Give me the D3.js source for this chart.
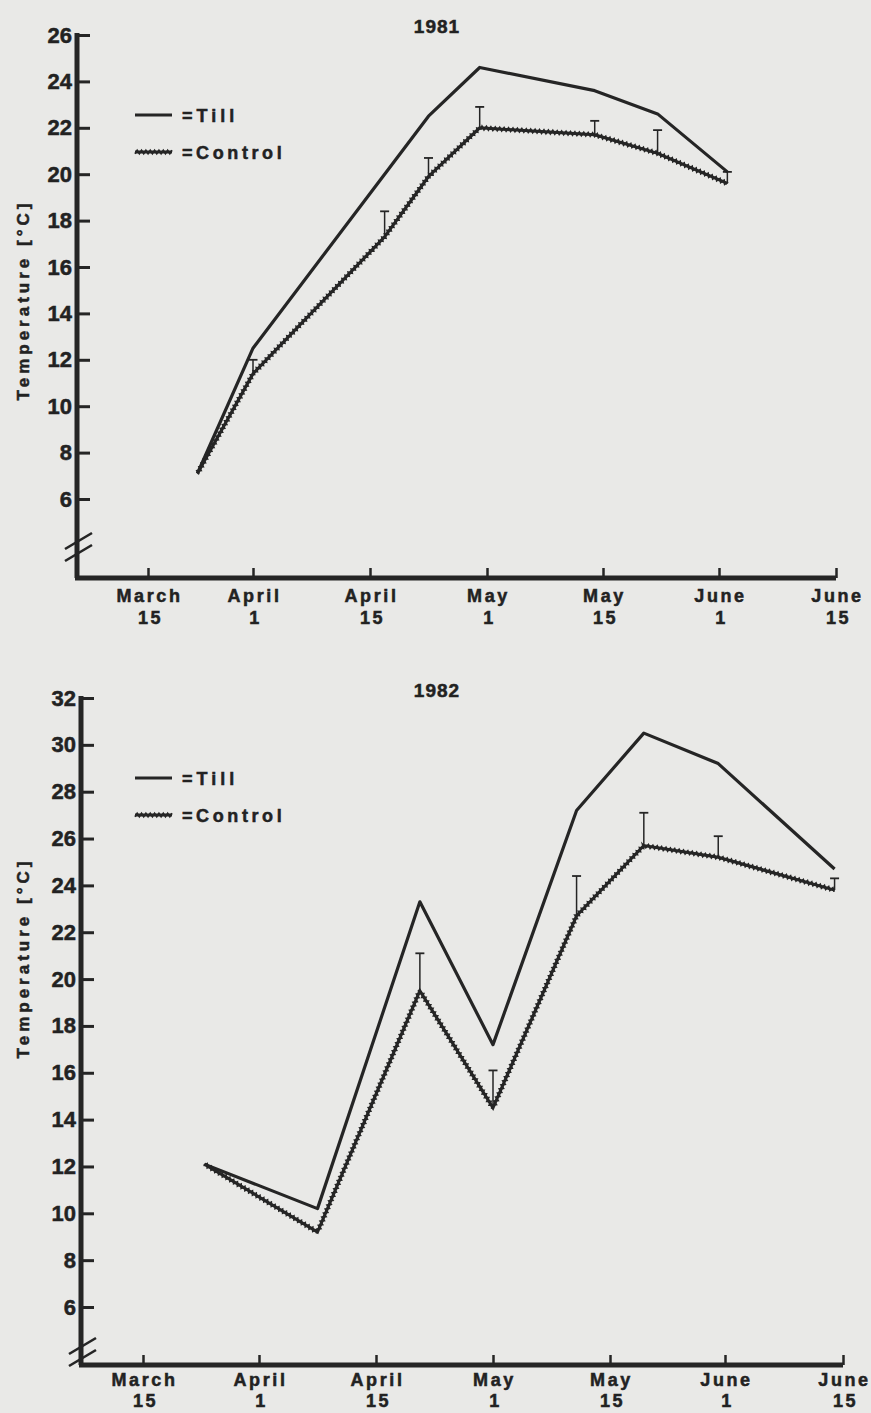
<!DOCTYPE html>
<html>
<head>
<meta charset="utf-8">
<script src="https://cdn.jsdelivr.net/npm/d3@7"></script>
<style>
  body { margin: 0; background: #e9e9e7; }
  text { font-family: "Liberation Sans", Arial, sans-serif; font-weight: bold; fill: #222; stroke: #222; stroke-width: 0.5px; }
</style>
</head>
<body>
<div id="chart"></div>
<script>
// x axis ticks (day of year) and their two-line labels
const tickDays = [74, 91, 105, 121, 135, 152, 166];
const tickMonths = ["March", "April", "April", "May", "May", "June", "June"];
const tickDates = ["15", "1", "15", "1", "15", "1", "15"];

// 1981 soil temperature
const days1981 = [82, 91, 107, 113, 120, 134, 143, 153];
const till1981 = [7.1, 12.5, 20.0, 22.5, 24.6, 23.6, 22.6, 20.1];
const control1981 = [7.1, 11.4, 17.3, 19.9, 22.0, 21.7, 20.9, 19.6];
const controlErr1981 = [null, 12.0, 18.4, 20.7, 22.9, 22.3, 21.9, 20.1];
const yTicks1981 = [6, 8, 10, 12, 14, 16, 18, 20, 22, 24, 26];

// 1982 soil temperature
const days1982 = [83, 98, 111, 121, 131, 140, 151, 165];
const till1982 = [12.1, 10.2, 23.3, 17.2, 27.2, 30.5, 29.2, 24.7];
const control1982 = [12.1, 9.2, 19.5, 14.5, 22.7, 25.7, 25.2, 23.8];
const controlErr1982 = [null, null, 21.1, 16.1, 24.4, 27.1, 26.1, 24.3];
const yTicks1982 = [6, 8, 10, 12, 14, 16, 18, 20, 22, 24, 26, 28, 30, 32];

const ink = "#252525";

const svg = d3.select("#chart")
    .append("svg")
    .attr("width", 871)
    .attr("height", 1413);

svg.append("rect")
    .attr("width", 871)
    .attr("height", 1413)
    .attr("fill", "#e9e9e7");

// zigzag path along a polyline (the "wavy" control line)
function zigzag(points, amp, step) {
    const out = [];
    let k = 0;
    for (let s = 0; s < points.length - 1; s++) {
        const [x0, y0] = points[s], [x1, y1] = points[s + 1];
        const len = Math.hypot(x1 - x0, y1 - y0);
        const n = Math.max(1, Math.round(len / step));
        const nx = -(y1 - y0) / len, ny = (x1 - x0) / len;
        for (let i = (s === 0 ? 0 : 1); i <= n; i++) {
            const t = i / n;
            const sgn = (k++ % 2 === 0) ? 1 : -1;
            out.push([x0 + (x1 - x0) * t + nx * amp * sgn, y0 + (y1 - y0) * t + ny * amp * sgn]);
        }
    }
    return d3.line()(out);
}

function drawControl(g, points) {
    g.append("path")
        .attr("d", d3.line()(points))
        .attr("fill", "none")
        .attr("stroke", ink)
        .attr("stroke-width", 3);
    g.append("path")
        .attr("d", zigzag(points, 1.7, 2.2))
        .attr("fill", "none")
        .attr("stroke", ink)
        .attr("stroke-width", 1.8);
}

function drawPanel(p) {
    const g = svg.append("g");

    const x = d3.scaleLinear().domain(tickDays).range(p.xTicksPx);
    const y = d3.scaleLinear().domain(p.yDomain).range(p.yRange);

    // title
    g.append("text")
        .attr("x", 437)
        .attr("y", p.titleY)
        .attr("text-anchor", "middle")
        .style("font-size", "19px")
        .style("letter-spacing", "1px")
        .text(p.title);

    // y axis label
    g.append("text")
        .attr("transform", "translate(29," + p.labelY + ") rotate(-90)")
        .attr("text-anchor", "middle")
        .style("font-size", "17px")
        .style("letter-spacing", "4px")
        .text("Temperature [°C]");

    // y axis (ticks pointing inward)
    const yAxis = g.append("g")
        .attr("transform", "translate(" + p.axisX + ",0)")
        .call(d3.axisLeft(y).tickValues(p.yTicks).tickSize(-13).tickPadding(5).tickFormat(d3.format("d")));
    yAxis.select(".domain").remove();
    yAxis.selectAll(".tick line").attr("stroke", ink).attr("stroke-width", 3);
    yAxis.selectAll(".tick text")
        .style("font-size", "22px")
        .style("font-family", "'Liberation Sans', Arial, sans-serif")
        .style("font-weight", "bold")
        .attr("fill", ink);

    // x axis (ticks pointing up)
    const xAxis = g.append("g")
        .attr("transform", "translate(0," + p.axisY + ")")
        .call(d3.axisBottom(x).tickValues(tickDays).tickSize(-10).tickPadding(0).tickFormat(() => ""));
    xAxis.select(".domain").remove();
    xAxis.selectAll(".tick line").attr("stroke", ink).attr("stroke-width", 2.5);
    xAxis.selectAll(".tick text").remove();
    xAxis.selectAll(".tick").each(function(d, i) {
        const t = d3.select(this).append("text")
            .attr("text-anchor", "middle")
            .style("font-size", "18px")
            .style("letter-spacing", "2.6px")
            .attr("fill", ink);
        t.append("tspan").attr("x", 1).attr("y", p.monthDy).text(tickMonths[i]);
        t.append("tspan").attr("x", 2).attr("y", p.dateDy).text(tickDates[i]);
    });

    // axis lines
    g.append("line")
        .attr("x1", p.axisX).attr("x2", p.axisX)
        .attr("y1", y(p.yDomain[1]) - 2).attr("y2", p.axisY)
        .attr("stroke", ink).attr("stroke-width", 5);
    g.append("line")
        .attr("x1", p.axisX - 2).attr("x2", x(tickDays[tickDays.length - 1]))
        .attr("y1", p.axisY).attr("y2", p.axisY)
        .attr("stroke", ink).attr("stroke-width", 5);

    // axis break marks
    [-6, 6].forEach(off => {
        g.append("line")
            .attr("x1", p.axisX - 12).attr("y1", p.breakY + off + 8)
            .attr("x2", p.axisX + 15).attr("y2", p.breakY + off - 8)
            .attr("stroke", ink).attr("stroke-width", 2.6);
    });

    // Till line
    const tillPts = p.days.map((d, i) => [x(d), y(p.till[i])]);
    g.append("path")
        .attr("d", d3.line()(tillPts))
        .attr("fill", "none")
        .attr("stroke", ink)
        .attr("stroke-width", 3.2)
        .attr("stroke-linejoin", "round");

    // Control line
    const ctrlPts = p.days.map((d, i) => [x(d), y(p.control[i])]);
    drawControl(g, ctrlPts);

    // error bars on control
    p.days.forEach((d, i) => {
        if (p.err[i] == null) return;
        const cx = x(d);
        g.append("line")
            .attr("x1", cx).attr("x2", cx)
            .attr("y1", y(p.control[i])).attr("y2", y(p.err[i]))
            .attr("stroke", ink).attr("stroke-width", 1.5);
        g.append("line")
            .attr("x1", cx - 4.5).attr("x2", cx + 4.5)
            .attr("y1", y(p.err[i])).attr("y2", y(p.err[i]))
            .attr("stroke", ink).attr("stroke-width", 1.8);
    });

    // legend
    g.append("line")
        .attr("x1", 135).attr("x2", 172)
        .attr("y1", p.legendY).attr("y2", p.legendY)
        .attr("stroke", ink).attr("stroke-width", 3);
    g.append("text")
        .attr("x", 182).attr("y", p.legendY + 7)
        .style("font-size", "18px")
        .style("letter-spacing", "4px")
        .text("=Till");
    drawControl(g, [[135, p.legendY + 37], [172, p.legendY + 37]]);
    g.append("text")
        .attr("x", 182).attr("y", p.legendY + 44)
        .style("font-size", "18px")
        .style("letter-spacing", "3.6px")
        .text("=Control");
}

drawPanel({
    title: "1981", titleY: 33, labelY: 300,
    days: days1981, till: till1981, control: control1981, err: controlErr1981,
    yTicks: yTicks1981, yDomain: [6, 26], yRange: [499, 35],
    xTicksPx: [148, 253, 370, 487, 603, 719, 836],
    axisX: 77, axisY: 578, breakY: 547, legendY: 115, monthDy: 24, dateDy: 46
});

drawPanel({
    title: "1982", titleY: 697, labelY: 958,
    days: days1982, till: till1982, control: control1982, err: controlErr1982,
    yTicks: yTicks1982, yDomain: [6, 32], yRange: [1307, 698],
    xTicksPx: [143, 259, 376, 493, 610, 725, 843],
    axisX: 81, axisY: 1365, breakY: 1352, legendY: 778, monthDy: 21, dateDy: 42
});
</script>
</body>
</html>
